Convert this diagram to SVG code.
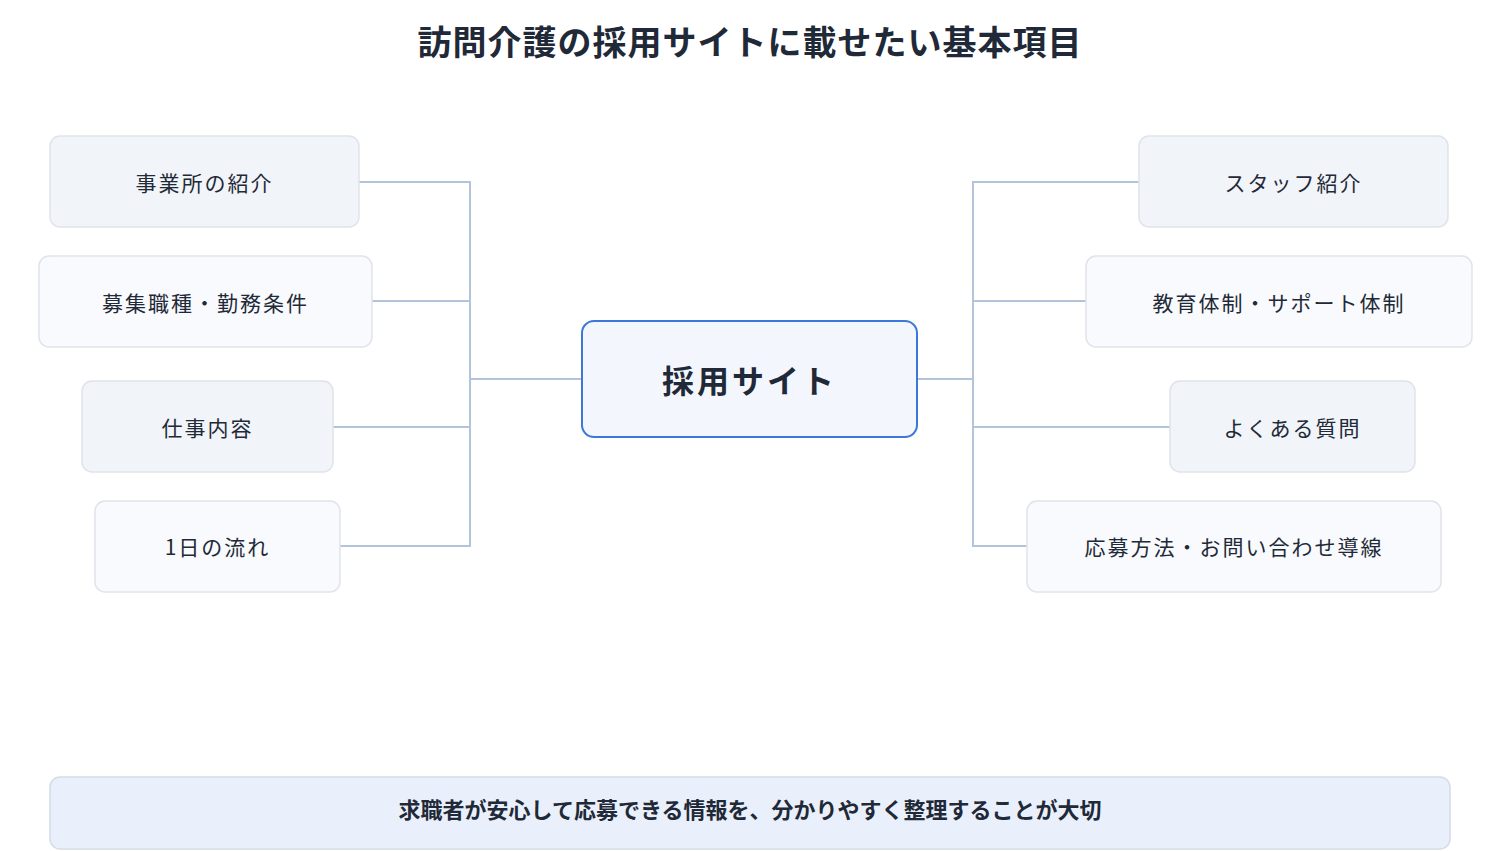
<svg xmlns="http://www.w3.org/2000/svg" width="1500" height="851" viewBox="0 0 1500 851">
<style>
text{font-family:"Noto Sans CJK JP","Noto Sans",sans-serif;fill:#1f2937;text-anchor:middle;dominant-baseline:central}
.n rect{stroke:#dfe3ea;stroke-width:1.5}
.a rect{fill:#f1f4f8}
.b rect{fill:#f8fafd}
.n text{font-size:21px;letter-spacing:2px}
.c path{fill:none;stroke:#b3c3da;stroke-width:2}
</style>
<rect width="1500" height="851" fill="#fff"/>
<text x="750" y="40" font-size="34" font-weight="bold" style="letter-spacing:1px">訪問介護の採用サイトに載せたい基本項目</text>
<g class="c">
<path d="M359 182H470V546H340M372 301H470M333 427H470M470 379H582"/>
<path d="M1139 182H973V546H1027M1086 301H973M1170 427H973M917 379H973"/>
</g>
<g id="l1" class="n a"><rect x="50" y="136" width="309" height="91" rx="10"/><text x="204.5" y="182">事業所の紹介</text></g>
<g id="l2" class="n b"><rect x="39" y="256" width="333" height="91" rx="10"/><text x="205.5" y="302">募集職種・勤務条件</text></g>
<g id="l3" class="n a"><rect x="82" y="381" width="251" height="91" rx="10"/><text x="207.5" y="427">仕事内容</text></g>
<g id="l4" class="n b"><rect x="95" y="501" width="245" height="91" rx="10"/><text x="217.5" y="546">1日の流れ</text></g>
<g id="r1" class="n a"><rect x="1139" y="136" width="309" height="91" rx="10"/><text x="1293.5" y="182">スタッフ紹介</text></g>
<g id="r2" class="n b"><rect x="1086" y="256" width="386" height="91" rx="10"/><text x="1279" y="302">教育体制・サポート体制</text></g>
<g id="r3" class="n a"><rect x="1170" y="381" width="245" height="91" rx="10"/><text x="1292.5" y="427">よくある質問</text></g>
<g id="r4" class="n b"><rect x="1027" y="501" width="414" height="91" rx="10"/><text x="1234" y="546">応募方法・お問い合わせ導線</text></g>
<g id="center"><rect x="582" y="321" width="335" height="116" rx="12" fill="#f3f7fd" stroke="#3b78d8" stroke-width="2"/><text x="749.5" y="379" font-size="32" font-weight="bold" style="letter-spacing:3px">採用サイト</text></g>
<g id="note"><rect x="50" y="777" width="1400" height="72" rx="10" fill="#e9f0fb" stroke="#d5dce6" stroke-width="1.5"/><text x="750" y="808" font-size="22" font-weight="bold">求職者が安心して応募できる情報を、分かりやすく整理することが大切</text></g>
</svg>
